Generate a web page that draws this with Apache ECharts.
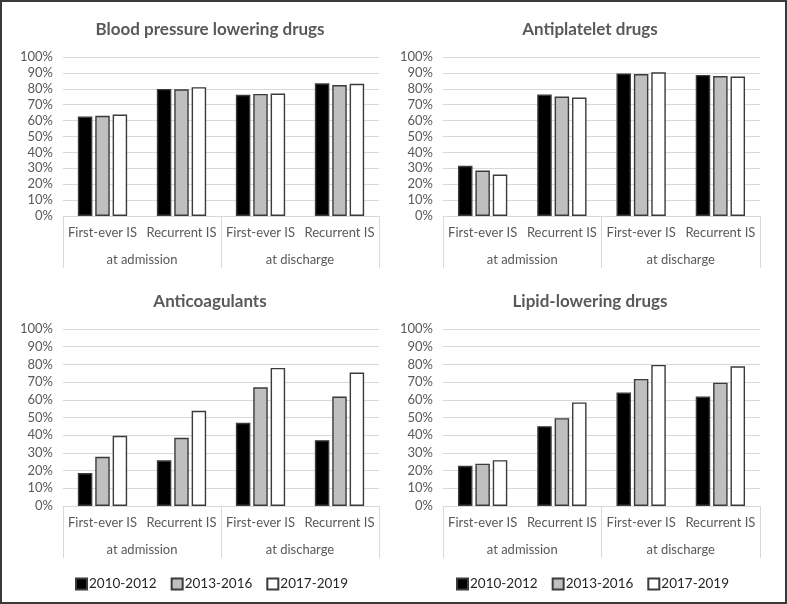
<!DOCTYPE html>
<html>
<head>
<meta charset="utf-8">
<script src="https://cdn.jsdelivr.net/npm/echarts@6/dist/echarts.min.js"></script>
<style>
html,body{margin:0;padding:0;background:#fff;}
#c{width:787px;height:604px;}
</style>
</head>
<body>
<div id="c"></div>
<script>
const titles = ['Blood pressure lowering drugs', 'Antiplatelet drugs', 'Anticoagulants', 'Lipid-lowering drugs'];
const categories = ['First-ever IS', 'Recurrent IS', 'First-ever IS', 'Recurrent IS'];
const groups = ['at admission', 'at discharge'];
const seriesNames = ['2010-2012', '2013-2016', '2017-2019'];
const yTicks = [0, 10, 20, 30, 40, 50, 60, 70, 80, 90, 100];

// values in %, order: [First-ever admission, Recurrent admission, First-ever discharge, Recurrent discharge]
const bp2010 = [62.6, 79.9, 76.2, 83.5];
const bp2013 = [63.0, 79.7, 76.8, 82.4];
const bp2017 = [63.8, 81.0, 77.0, 83.1];

const ap2010 = [31.6, 76.4, 89.7, 88.7];
const ap2013 = [28.6, 75.1, 89.3, 88.0];
const ap2017 = [26.1, 74.5, 90.4, 87.7];

const ac2010 = [18.6, 25.8, 47.0, 37.2];
const ac2013 = [27.8, 38.5, 67.1, 61.8];
const ac2017 = [39.7, 53.8, 78.0, 75.4];

const ll2010 = [22.7, 45.1, 64.1, 61.8];
const ll2013 = [23.9, 49.6, 71.8, 69.7];
const ll2017 = [25.9, 58.5, 79.7, 78.9];

const panelData = [
  [bp2010, bp2013, bp2017],
  [ap2010, ap2013, ap2017],
  [ac2010, ac2013, ac2017],
  [ll2010, ll2013, ll2017]
];

const FONT = 'Lato, "Open Sans", sans-serif';
const grids = [
  {left: 63, top: 57, width: 316, height: 159},
  {left: 443, top: 57, width: 317, height: 159},
  {left: 63, top: 329, width: 316, height: 177},
  {left: 443, top: 329, width: 317, height: 177}
];
const titleCenters = [[205, 16], [585, 16], [205, 288], [585, 288]];
const fills = ['#000000', '#bfbfbf', '#ffffff'];

const legendBase = {
  data: seriesNames, top: 572, icon: 'rect', itemWidth: 11, itemHeight: 11, itemGap: 14,
  textStyle: {fontFamily: FONT, fontSize: 13.5, color: '#262626', padding: [0, 0, 0, -3]}
};

const option = {
  animation: false,
  backgroundColor: '#ffffff',
  title: titles.map((t, i) => ({
    text: t,
    left: titleCenters[i][0],
    top: titleCenters[i][1],
    textAlign: 'center',
    textStyle: {fontFamily: FONT, fontWeight: 'bold', fontSize: 17, color: '#595959'}
  })),
  legend: [
    Object.assign({}, legendBase, {left: 70}),
    Object.assign({}, legendBase, {left: 451})
  ],
  grid: grids,
  xAxis: [],
  yAxis: [],
  series: [],
  graphic: [{
    type: 'rect', shape: {x: 1, y: 1, width: 785, height: 602},
    style: {fill: 'none', stroke: '#3a3a3a', lineWidth: 2}, silent: true
  }]
};

for (let g = 0; g < 4; g++) {
  option.xAxis.push({
    type: 'category', gridIndex: g, data: categories,
    axisLine: {show: true, lineStyle: {color: '#d9d9d9', width: 1}},
    axisTick: {show: false},
    axisLabel: {margin: 10, fontFamily: FONT, fontSize: 13, color: '#595959', interval: 0}
  });
  option.xAxis.push({
    type: 'category', gridIndex: g, data: groups, position: 'bottom',
    axisLine: {show: false},
    axisTick: {show: true, length: 52, lineStyle: {color: '#d9d9d9', width: 1}},
    axisLabel: {margin: 37, fontFamily: FONT, fontSize: 13, color: '#595959', interval: 0},
    splitLine: {show: false}
  });
  option.yAxis.push({
    type: 'value', gridIndex: g, min: yTicks[0], max: yTicks[yTicks.length - 1], interval: 10,
    axisLine: {show: false}, axisTick: {show: false},
    splitLine: {show: true, lineStyle: {color: '#d9d9d9', width: 1}},
    axisLabel: {margin: 10, fontFamily: FONT, fontSize: 13, color: '#595959', formatter: '{value}%'}
  });
  for (let s = 0; s < 3; s++) {
    option.series.push({
      name: seriesNames[s], type: 'bar', xAxisIndex: 2 * g, yAxisIndex: g,
      data: panelData[g][s], barWidth: 14.5, barGap: '20%',
      itemStyle: {color: fills[s], borderColor: '#3b3b3b', borderWidth: 1.4}
    });
  }
}

const chart = echarts.init(document.getElementById('c'), null, {renderer: 'canvas'});
chart.setOption(option);
</script>
</body>
</html>
